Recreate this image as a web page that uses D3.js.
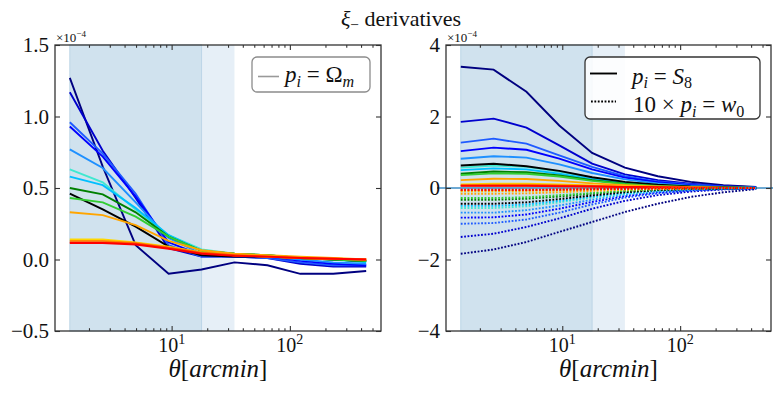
<!DOCTYPE html>
<html>
<head>
<meta charset="utf-8">
<script src="https://cdn.jsdelivr.net/npm/d3@7"></script>
</head>
<body style="margin:0">
<script>
// angular bins (arcmin)
var theta = [1.377, 2.615, 4.966, 9.43, 17.91, 34.0, 64.6, 122.6, 232.8, 442.1];
// scale cuts (shaded)
var cutDark = [1.377, 17.91];
var cutLight = [17.91, 34.0];

var lineColors = ["#000080", "#0000cd", "#1f5bff", "#0000ff", "#1e90ff", "#40e8d0", "#00bfff",
                  "#008000", "#000000", "#32cd32", "#ffa500", "#ffd700", "#ff8c00", "#ff4500", "#ff0000"];

// d xi_- / d Omega_m   (x 1e-4)
var omegaM = [
  [1.27, 0.65, 0.10, -0.10, -0.07, -0.02, -0.04, -0.10, -0.10, -0.08],
  [1.17, 0.76, 0.43, 0.08, 0.02, 0.02, 0.01, -0.03, -0.05, -0.05],
  [0.96, 0.74, 0.46, 0.10, 0.02, 0.02, 0.01, -0.02, -0.04, -0.04],
  [0.93, 0.72, 0.44, 0.12, 0.03, 0.02, 0.02, -0.01, -0.03, -0.04],
  [0.77, 0.64, 0.40, 0.15, 0.04, 0.03, 0.02, 0.00, -0.02, -0.03],
  [0.63, 0.54, 0.35, 0.17, 0.07, 0.04, 0.03, 0.01, 0.00, -0.01],
  [0.58, 0.52, 0.36, 0.17, 0.06, 0.04, 0.03, 0.01, 0.00, -0.02],
  [0.50, 0.455, 0.33, 0.16, 0.06, 0.04, 0.03, 0.01, 0.00, -0.01],
  [0.46, 0.35, 0.23, 0.09, 0.03, 0.02, 0.02, 0.01, 0.00, -0.01],
  [0.43, 0.40, 0.30, 0.16, 0.06, 0.04, 0.03, 0.01, 0.00, -0.01],
  [0.33, 0.31, 0.24, 0.13, 0.065, 0.04, 0.03, 0.02, 0.01, 0.00],
  [0.14, 0.14, 0.12, 0.09, 0.05, 0.03, 0.02, 0.01, 0.005, 0.00],
  [0.13, 0.13, 0.115, 0.085, 0.05, 0.03, 0.02, 0.01, 0.005, 0.00],
  [0.12, 0.12, 0.11, 0.08, 0.045, 0.03, 0.02, 0.01, 0.005, 0.00],
  [0.115, 0.115, 0.105, 0.075, 0.04, 0.025, 0.02, 0.01, 0.005, 0.00]
];

// d xi_- / d S8   (x 1e-4)
var s8 = [
  [3.39, 3.31, 2.69, 1.75, 0.98, 0.57, 0.33, 0.17, 0.075, 0.03],
  [1.85, 1.94, 1.69, 1.19, 0.68, 0.38, 0.22, 0.12, 0.05, 0.02],
  [1.27, 1.38, 1.24, 0.91, 0.59, 0.33, 0.18, 0.10, 0.04, 0.01],
  [1.03, 1.13, 1.07, 0.82, 0.52, 0.29, 0.16, 0.08, 0.03, 0.01],
  [0.82, 0.89, 0.85, 0.66, 0.42, 0.24, 0.13, 0.06, 0.02, 0.01],
  [0.57, 0.63, 0.59, 0.46, 0.29, 0.16, 0.09, 0.04, 0.02, 0.00],
  [0.50, 0.55, 0.52, 0.40, 0.25, 0.14, 0.08, 0.04, 0.02, 0.00],
  [0.40, 0.46, 0.44, 0.35, 0.22, 0.12, 0.07, 0.03, 0.01, 0.00],
  [0.63, 0.68, 0.61, 0.48, 0.30, 0.17, 0.09, 0.04, 0.02, 0.00],
  [0.36, 0.41, 0.40, 0.32, 0.20, 0.11, 0.06, 0.03, 0.01, 0.00],
  [0.22, 0.26, 0.25, 0.20, 0.13, 0.08, 0.04, 0.02, 0.01, 0.00],
  [0.10, 0.12, 0.12, 0.10, 0.07, 0.04, 0.02, 0.01, 0.00, 0.00],
  [0.08, 0.09, 0.09, 0.08, 0.06, 0.03, 0.02, 0.01, 0.00, 0.00],
  [0.07, 0.07, 0.07, 0.06, 0.05, 0.03, 0.02, 0.01, 0.00, 0.00],
  [0.06, 0.06, 0.06, 0.05, 0.04, 0.03, 0.02, 0.01, 0.00, 0.00]
];

// 10 x d xi_- / d w0   (x 1e-4)
var w0x10 = [
  [-1.84, -1.72, -1.51, -1.23, -0.95, -0.67, -0.44, -0.25, -0.12, -0.03],
  [-1.37, -1.28, -1.09, -0.85, -0.58, -0.36, -0.20, -0.10, -0.04, -0.01],
  [-1.00, -0.98, -0.88, -0.69, -0.46, -0.27, -0.15, -0.07, -0.03, -0.01],
  [-0.83, -0.82, -0.74, -0.58, -0.39, -0.23, -0.12, -0.06, -0.02, -0.01],
  [-0.69, -0.69, -0.62, -0.49, -0.33, -0.19, -0.10, -0.05, -0.02, 0.00],
  [-0.56, -0.56, -0.51, -0.40, -0.27, -0.16, -0.08, -0.04, -0.01, 0.00],
  [-0.50, -0.50, -0.46, -0.36, -0.24, -0.14, -0.07, -0.03, -0.01, 0.00],
  [-0.33, -0.33, -0.30, -0.24, -0.16, -0.09, -0.05, -0.02, -0.01, 0.00],
  [-0.44, -0.44, -0.40, -0.31, -0.21, -0.12, -0.06, -0.03, -0.01, 0.00],
  [-0.28, -0.28, -0.26, -0.20, -0.14, -0.08, -0.04, -0.02, 0.00, 0.00],
  [-0.16, -0.16, -0.15, -0.12, -0.08, -0.05, -0.03, -0.01, 0.00, 0.00],
  [-0.09, -0.09, -0.08, -0.07, -0.05, -0.03, -0.02, -0.01, 0.00, 0.00],
  [-0.07, -0.07, -0.07, -0.06, -0.04, -0.03, -0.02, -0.01, 0.00, 0.00],
  [-0.06, -0.06, -0.06, -0.05, -0.04, -0.02, -0.01, -0.01, 0.00, 0.00],
  [-0.05, -0.05, -0.05, -0.04, -0.03, -0.02, -0.01, -0.01, 0.00, 0.00]
];

var leftTicks = [-0.5, 0.0, 0.5, 1.0, 1.5];
var rightTicks = [-4, -2, 0, 2, 4];

var W = 781, H = 396;
var plotTop = 45, plotBottom = 331;
var spine = "#333";
var FONT = "Liberation Serif";

var svg = d3.select("body").append("svg").attr("width", W).attr("height", H);

// matplotlib-like 5% margins on a log axis
var lo = Math.log10(d3.min(theta)), hi = Math.log10(d3.max(theta)), pad = 0.05 * (hi - lo);
var xDomain = [Math.pow(10, lo - pad), Math.pow(10, hi + pad)];

function minorTicks(dom) {
  var out = [];
  for (var e = -1; e <= 3; e++)
    for (var m = 2; m <= 9; m++) {
      var v = m * Math.pow(10, e);
      if (v > dom[0] && v < dom[1]) out.push(v);
    }
  return out;
}

// text with italic parts / sub- and superscripts
function richText(g, x, y, size, parts, anchor) {
  var t = g.append("text").attr("x", x).attr("y", y).attr("font-size", size)
    .style("font-family", FONT)
    .attr("text-anchor", anchor || "start").attr("fill", "#111");
  var shift = 0;
  parts.forEach(function(p) {
    var s = p.sub ? size * 0.2 : p.sup ? -size * 0.42 : 0;
    t.append("tspan")
      .attr("dy", s - shift)
      .attr("font-size", (p.sub || p.sup) ? size * 0.7 : size)
      .style("font-family", FONT)
      .style("font-style", p.it ? "italic" : "normal")
      .text(p.t);
    shift = s;
  });
  return t;
}

function styleAxis(sel) {
  sel.attr("font-family", null);
  sel.select(".domain").remove();
  sel.selectAll(".tick line").attr("stroke", spine).attr("stroke-width", 1.1);
}

function drawPanel(p) {
  var x = d3.scaleLog().domain(xDomain).range([p.x0, p.x1]);
  var y = d3.scaleLinear().domain(p.yDomain).range([plotBottom, plotTop]);
  var g = svg.append("g");

  g.append("clipPath").attr("id", "clip" + p.id).append("rect")
    .attr("x", p.x0).attr("y", plotTop).attr("width", p.x1 - p.x0).attr("height", plotBottom - plotTop);

  // scale cuts
  g.append("rect").attr("x", x(cutLight[0])).attr("y", plotTop)
    .attr("width", x(cutLight[1]) - x(cutLight[0])).attr("height", plotBottom - plotTop)
    .attr("fill", "#e6eff7");
  g.append("rect").attr("x", x(cutDark[0])).attr("y", plotTop)
    .attr("width", x(cutDark[1]) - x(cutDark[0])).attr("height", plotBottom - plotTop)
    .attr("fill", "#d0e2ee").attr("stroke", "#bcd5e7").attr("stroke-width", 1);

  if (p.zeroLine) {
    g.append("line").attr("x1", p.x0 - 9).attr("x2", p.x1 + 2)
      .attr("y1", y(0)).attr("y2", y(0))
      .attr("stroke", "#3d8cc4").attr("stroke-width", 1.6);
  }

  var line = d3.line().x(function(d, i) { return x(theta[i]); }).y(function(d) { return y(d); });
  var lines = g.append("g").attr("clip-path", "url(#clip" + p.id + ")");

  p.sets.forEach(function(set) {
    lines.selectAll(null).data(set.data).enter().append("path")
      .attr("d", line)
      .attr("fill", "none")
      .attr("stroke", function(d, i) { return lineColors[i]; })
      .attr("stroke-width", 1.9)
      .attr("stroke-dasharray", set.dotted ? "1.8,1.6" : null);
  });

  // axes, ticks pointing in
  var xMajor = [10, 100];
  var xMinor = minorTicks(xDomain);
  var bot = g.append("g").attr("transform", "translate(0," + plotBottom + ")");
  bot.append("g").call(d3.axisBottom(x).tickValues(xMajor).tickSizeInner(-5).tickSizeOuter(0).tickFormat("")).call(styleAxis);
  bot.append("g").call(d3.axisBottom(x).tickValues(xMinor).tickSizeInner(-2.8).tickSizeOuter(0).tickFormat("")).call(styleAxis);
  var topAx = g.append("g").attr("transform", "translate(0," + plotTop + ")");
  topAx.append("g").call(d3.axisTop(x).tickValues(xMajor).tickSizeInner(-5).tickSizeOuter(0).tickFormat("")).call(styleAxis);
  topAx.append("g").call(d3.axisTop(x).tickValues(xMinor).tickSizeInner(-2.8).tickSizeOuter(0).tickFormat("")).call(styleAxis);

  var lft = g.append("g").attr("transform", "translate(" + p.x0 + ",0)")
    .call(d3.axisLeft(y).tickValues(p.yTicks).tickSizeInner(-5).tickSizeOuter(0).tickPadding(6).tickFormat(p.yFormat))
    .call(styleAxis);
  lft.selectAll("text").attr("font-size", 21).attr("fill", "#111").style("font-family", FONT);
  g.append("g").attr("transform", "translate(" + p.x1 + ",0)")
    .call(d3.axisRight(y).tickValues(p.yTicks).tickSizeInner(-5).tickSizeOuter(0).tickFormat(""))
    .call(styleAxis);

  xMajor.forEach(function(v) {
    richText(g, x(v), plotBottom + 21, 20,
      [{ t: "10" }, { t: String(Math.round(Math.log10(v))), sup: true }], "middle");
  });

  // frame
  g.append("rect").attr("x", p.x0).attr("y", plotTop).attr("width", p.x1 - p.x0).attr("height", plotBottom - plotTop)
    .attr("fill", "none").attr("stroke", spine).attr("stroke-width", 1.3);

  // offset text
  richText(g, p.x0 + 1, plotTop - 3, 13, [{ t: "×10" }, { t: "−4", sup: true }]);

  // x label
  richText(g, (p.x0 + p.x1) / 2, 377, 25,
    [{ t: "θ", it: true }, { t: "[" }, { t: "arcmin", it: true }, { t: "]" }], "middle");

  return { x: x, y: y, g: g };
}

// title
richText(svg, 401, 26, 22, [{ t: "ξ", it: true }, { t: "−", sub: true }, { t: " derivatives" }], "middle");

// left panel: Omega_m
var left = drawPanel({
  id: "L", x0: 55, x1: 381, yDomain: [-0.5, 1.5], yTicks: leftTicks,
  yFormat: d3.format(".1f"),
  sets: [{ data: omegaM, dotted: false }]
});
var lg = left.g.append("g");
lg.append("rect").attr("x", 252).attr("y", 57).attr("width", 118).attr("height", 35).attr("rx", 5)
  .attr("fill", "#fff").attr("fill-opacity", 0.85).attr("stroke", "#8c8c8c").attr("stroke-width", 1.3);
lg.append("line").attr("x1", 258).attr("x2", 279).attr("y1", 76.5).attr("y2", 76.5)
  .attr("stroke", "#999").attr("stroke-width", 1.6);
richText(lg, 285, 82, 23, [{ t: "p", it: true }, { t: "i", it: true, sub: true }, { t: " = Ω" }, { t: "m", it: true, sub: true }]);

// right panel: S8 and 10 x w0
var right = drawPanel({
  id: "R", x0: 446, x1: 771, yDomain: [-4, 4], yTicks: rightTicks,
  yFormat: d3.format("d"), zeroLine: true,
  sets: [{ data: s8, dotted: false }, { data: w0x10, dotted: true }]
});
var rg = right.g.append("g");
rg.append("rect").attr("x", 585).attr("y", 57).attr("width", 175).attr("height", 62).attr("rx", 5)
  .attr("fill", "#fff").attr("fill-opacity", 0.85).attr("stroke", "#333").attr("stroke-width", 1.3);
rg.append("line").attr("x1", 590).attr("x2", 617).attr("y1", 73.5).attr("y2", 73.5)
  .attr("stroke", "#000").attr("stroke-width", 1.9);
rg.append("line").attr("x1", 591).attr("x2", 616).attr("y1", 101.5).attr("y2", 101.5)
  .attr("stroke", "#000").attr("stroke-width", 1.9).attr("stroke-dasharray", "1.8,1.6");
richText(rg, 632, 83.5, 23, [{ t: "p", it: true }, { t: "i", it: true, sub: true }, { t: " = " }, { t: "S", it: true }, { t: "8", sub: true }]);
richText(rg, 633, 112, 23, [{ t: "10 × " }, { t: "p", it: true }, { t: "i", it: true, sub: true }, { t: " = " }, { t: "w", it: true }, { t: "0", sub: true }]);
</script>
</body>
</html>
